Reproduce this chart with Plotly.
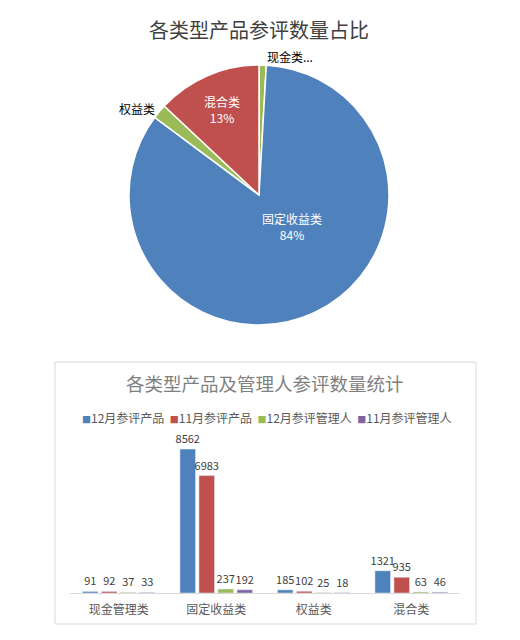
import plotly.graph_objects as go

# Pie data
pie_labels = ["现金类", "固定收益类", "权益类", "混合类"]
pie_values = [91, 8562, 185, 1321]
pie_text = ["现金类...", "", "权益类", "混合类<br>13%"]
pie_colors = ["#9BBB59", "#4F81BD", "#9BBB59", "#C0504D"]

# Bar data
categories = ["现金管理类", "固定收益类", "权益类", "混合类"]
series_names = ["12月参评产品", "11月参评产品", "12月参评管理人", "11月参评管理人"]
prod_dec = [91, 8562, 185, 1321]
prod_nov = [92, 6983, 102, 935]
mgr_dec = [37, 237, 25, 63]
mgr_nov = [33, 192, 18, 46]
bar_colors = ["#4F81BD", "#C0504D", "#9BBB59", "#8064A2"]

FONT = "Noto Sans CJK SC"
OFF = 8  # page body margin
W, H = 520 - OFF, 640 - OFF


def px(x):
    return (x - OFF) / W


def py(y):
    return 1 - (y - OFF) / H


fig = go.Figure()

fig.add_trace(go.Pie(
    labels=pie_labels, values=pie_values, text=pie_text,
    textinfo="text", sort=False, direction="clockwise", rotation=0,
    textposition=["outside", "none", "outside", "inside"],
    insidetextorientation="horizontal",
    marker=dict(colors=pie_colors, line=dict(color="white", width=1.5)),
    insidetextfont=dict(family=FONT, size=12, color="white"),
    outsidetextfont=dict(family=FONT, size=12, color="#000000"),
    domain=dict(x=[px(129), px(389)], y=[py(325), py(65)]),
    showlegend=False, hoverinfo="label+value+percent",
))

for name, vals, col in zip(series_names, [prod_dec, prod_nov, mgr_dec, mgr_nov], bar_colors):
    fig.add_trace(go.Bar(
        name=name, x=categories, y=vals, marker_color=col,
        text=vals, texttemplate="%{y}", textposition="outside",
        constraintext="none", cliponaxis=False,
        textfont=dict(family=FONT, size=11, color="#404040"),
        showlegend=False,
    ))

legend_html = "  ".join(
    f'<span style="color:{c};font-size:9px">■</span><span>{n}</span>'
    for n, c in zip(series_names, bar_colors)
)

fixed_pct = round(pie_values[1] / sum(pie_values) * 100)

fig.update_layout(
    width=W, height=H,
    margin=dict(l=0, r=0, t=0, b=0),
    paper_bgcolor="white", plot_bgcolor="white",
    font=dict(family=FONT, color="#595959"),
    barmode="group", bargap=0.22, bargroupgap=0.18,
    xaxis=dict(domain=[px(70), px(460)], showline=True, linecolor="#D9D9D9",
               linewidth=1, ticks="", showgrid=False, zeroline=False,
               tickfont=dict(family=FONT, size=12, color="#595959"),
               ticklabelstandoff=6),
    yaxis=dict(domain=[py(593), py(440)], range=[0, 9100], visible=False,
               showgrid=False, zeroline=False),
    shapes=[dict(type="rect", xref="paper", yref="paper",
                 x0=px(55), x1=px(476), y0=py(624), y1=py(362),
                 line=dict(color="#D9D9D9", width=1))],
    annotations=[
        dict(text="各类型产品参评数量占比", x=px(259), y=py(30), xref="paper", yref="paper",
             showarrow=False, font=dict(family=FONT, size=20, color="#404040"),
             xanchor="center", yanchor="middle"),
        dict(text=f"{pie_labels[1]}<br>{fixed_pct}%", x=px(292), y=py(226),
             xref="paper", yref="paper", showarrow=False,
             font=dict(family=FONT, size=12, color="white"),
             xanchor="center", yanchor="middle"),
        dict(text="各类型产品及管理人参评数量统计", x=px(265), y=py(383), xref="paper", yref="paper",
             showarrow=False, font=dict(family=FONT, size=18.5, color="#7F7F7F"),
             xanchor="center", yanchor="middle"),
        dict(text=legend_html, x=px(267), y=py(417), xref="paper", yref="paper",
             showarrow=False, font=dict(family=FONT, size=12, color="#595959"),
             xanchor="center", yanchor="middle"),
    ],
)

fig.write_html("out.html")
